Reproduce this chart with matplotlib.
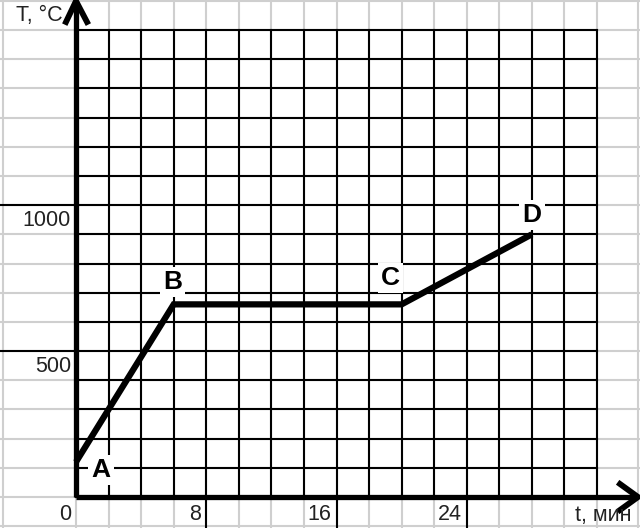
import matplotlib
matplotlib.use("Agg")
import matplotlib.pyplot as plt
import numpy as np

plt.rcParams['font.family'] = ['Liberation Sans', 'DejaVu Sans']

# Data
point_names = ["A", "B", "C", "D"]
time_min = [0, 6, 20, 28]
temp_c = [120, 660, 660, 900]
x_ticks = [0, 8, 16, 24]
x_tick_labels = ["0", "8", "16", "24"]
y_ticks = [500, 1000]
y_tick_labels = ["500", "1000"]

W, H = 640, 528
fig = plt.figure(figsize=(W / 100, H / 100), dpi=100)
x0, x1 = 76, 597   # pixel columns of t=0 and t=32
y0, y1 = 497, 30   # pixel rows of T=0 and T=1600
ax = fig.add_axes([x0 / W, (H - y0) / H, (x1 - x0) / W, (y0 - y1) / H])
ax.set_xlim(0, 32)
ax.set_ylim(0, 1600)
ax.axis('off')

sx = 32 / (x1 - x0)     # minutes per pixel
sy = 1600 / (y0 - y1)   # degrees per pixel
xmin_f, xmax_f = -x0 * sx, (W - x0) * sx
ymin_f, ymax_f = -(H - y0) * sy, y0 * sy

gray = '#cfcfcf'
# light "paper" grid
for yv in range(-100, 1800, 100):
    ax.plot([xmin_f, xmax_f], [yv, yv], color=gray, lw=1.5, clip_on=False, zorder=1)
for xv in list(range(0, 34, 2)) + [-4.5, 34.5]:
    ax.plot([xv, xv], [ymin_f, ymax_f], color=gray, lw=1.5, clip_on=False, zorder=1)

# black grid
for yv in range(0, 1700, 100):
    ax.plot([0, 32], [yv, yv], color='black', lw=1.5, clip_on=False, zorder=2)
for xv in range(0, 34, 2):
    ax.plot([xv, xv], [0, 1600], color='black', lw=1.5, clip_on=False, zorder=2)

# extended tick lines
for yv in y_ticks:
    ax.plot([xmin_f, 0], [yv, yv], color='black', lw=1.5, clip_on=False, zorder=2)
for xv in x_ticks[1:]:
    ax.plot([xv, xv], [ymin_f, 0], color='black', lw=1.5, clip_on=False, zorder=2)

# axes with arrows
ax.plot([0, 0], [0, ymax_f - 1 * sy], color='black', lw=3.8, clip_on=False, zorder=4,
        solid_capstyle='butt')
ax.plot([0, (638 - x0) * sx], [0, 0], color='black', lw=3.8, clip_on=False, zorder=4,
        solid_capstyle='butt')
tipy = ymax_f - 1 * sy
ax.plot([-10 * sx, 0, 11 * sx], [tipy - 21 * sy, tipy, tipy - 21 * sy], color='black',
        lw=4.2, clip_on=False, zorder=4, solid_joinstyle='miter')
tipx = (638 - x0) * sx
ax.plot([tipx - 18 * sx, tipx, tipx - 18 * sx], [13 * sy, 0, -13 * sy], color='black',
        lw=4.2, clip_on=False, zorder=4, solid_joinstyle='miter')

# data line
ax.plot(time_min, temp_c, color='black', lw=4.5, clip_on=False, zorder=5,
        solid_capstyle='butt', solid_joinstyle='miter')

# point labels
offsets = [(18, -6), (-1, 16), (-8, 19), (0, 14)]
for name, t, T, off in zip(point_names, time_min, temp_c, offsets):
    ax.annotate(name, (t, T), xytext=off, textcoords='offset points', ha='center',
                va='center', fontsize=19, fontweight='bold', color='black', zorder=6,
                bbox=dict(boxstyle='square,pad=0.12', fc='white', ec='none'))

# tick labels
fs = 15.5
for xv, lab in zip(x_ticks, x_tick_labels):
    ax.text(xv - 5 * sx, -17 * sy, lab, ha='right', va='center', fontsize=fs,
            color='#222222', zorder=6)
for yv, lab in zip(y_ticks, y_tick_labels):
    ax.text(-5 * sx, yv - 15 * sy, lab, ha='right', va='center', fontsize=fs,
            color='#222222', zorder=6)

ax.text(-13 * sx, 1600 + 14 * sy, "T, °C", ha='right', va='center', fontsize=fs,
        color='#222222', zorder=6)
ax.text((632 - x0) * sx, -18 * sy, "t, мин", ha='right', va='center', fontsize=fs,
        color='#222222', zorder=6)

fig.savefig("out.png", dpi=100)
